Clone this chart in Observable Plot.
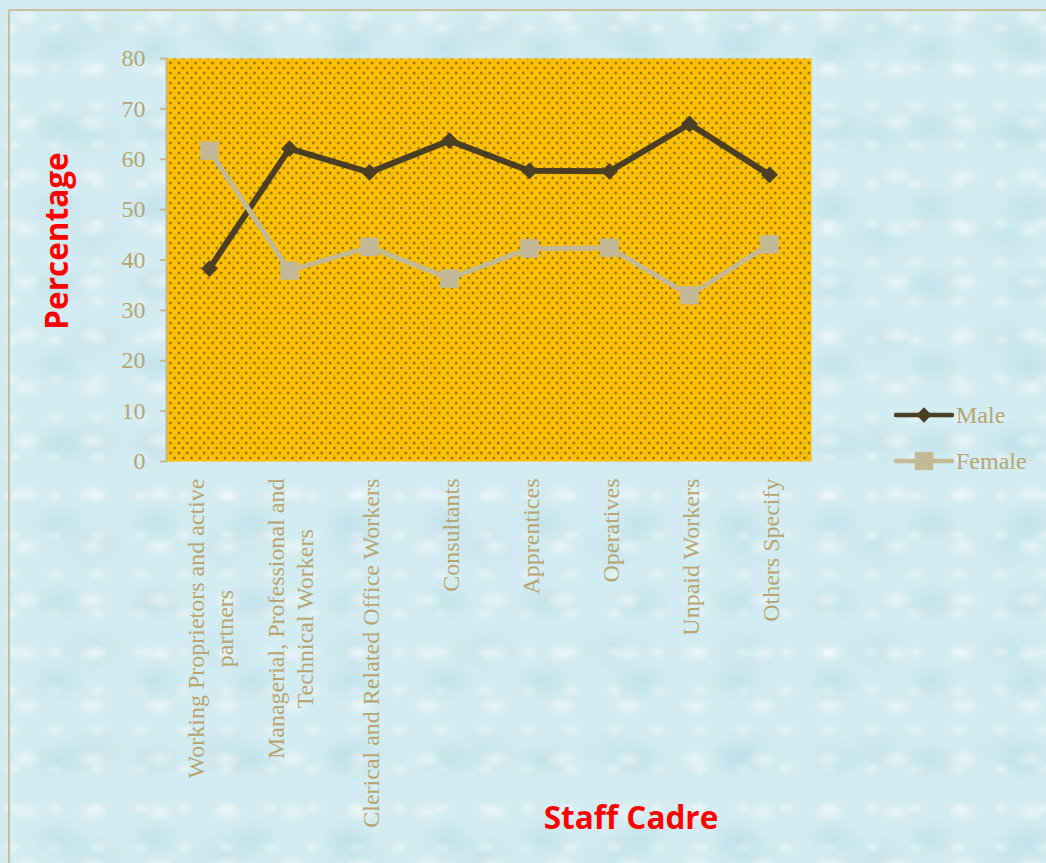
<!DOCTYPE html>
<html>
<head>
<meta charset="utf-8">
<script src="https://cdn.jsdelivr.net/npm/d3@7"></script>
<script src="https://cdn.jsdelivr.net/npm/@observablehq/plot@0.6"></script>
<style>
html, body { margin: 0; padding: 0; }
#wrap {
  position: relative; width: 1046px; height: 863px; overflow: hidden;
  background-color: #d3ecf1;
  background-image:
    radial-gradient(ellipse 16px 10px at 38% 32%, rgba(255,255,255,0.5), rgba(255,255,255,0) 100%),
    radial-gradient(ellipse 30px 22px at 60% 62%, rgba(165,208,220,0.35), rgba(165,208,220,0) 100%),
    radial-gradient(ellipse 10px 7px at 28% 72%, rgba(255,255,255,0.4), rgba(255,255,255,0) 100%),
    radial-gradient(ellipse 40px 26px at 70% 30%, rgba(175,215,226,0.3), rgba(175,215,226,0) 100%);
  background-size: 67px 53px, 97px 79px, 43px 39px, 131px 103px;
}
#border { position: absolute; left: 8px; top: 9px; width: 1100px; height: 900px; border: 2px solid #c8bf9f; }
#chart { position: absolute; left: 0; top: 0; }
.title { position: absolute; color: #ff0000; font-family: "Open Sans", sans-serif; font-weight: 700; font-size: 31.5px; white-space: nowrap; transform: translate(-50%, -50%); }
#ytitle { left: 55px; top: 241px; transform: translate(-50%, -50%) rotate(-90deg); }
#xtitle { left: 631px; top: 816px; }
#legend { position: absolute; left: 894px; top: 400px; font-family: "Liberation Serif", serif; font-size: 24px; color: #b4a46f; }
#legend .row { display: flex; align-items: center; height: 30px; margin-bottom: 16px; }
#legend svg { display: block; margin-right: 2px; }
</style>
</head>
<body>
<div id="wrap">
  <div id="border"></div>
  <div id="chart"></div>
  <div class="title" id="ytitle">Percentage</div>
  <div class="title" id="xtitle">Staff Cadre</div>
  <div id="legend"></div>
</div>
<script>
// ---- data ----
const categories = [
  "Working Proprietors and active\npartners",
  "Managerial, Professional and\nTechnical Workers",
  "Clerical and Related Office Workers",
  "Consultants",
  "Apprentices",
  "Operatives",
  "Unpaid Workers",
  "Others Specify"
];
const seriesNames = ["Male", "Female"];
const maleValues   = [38.3, 62.1, 57.4, 63.7, 57.7, 57.6, 67.0, 56.9];
const femaleValues = [61.7, 37.9, 42.6, 36.3, 42.3, 42.4, 33.0, 43.1];
const yTicks = [0, 10, 20, 30, 40, 50, 60, 70, 80];

// ---- styles ----
const colors = {Male: "#4a3f24", Female: "#c4b996"};
const symbols = {Male: "diamond2", Female: "square"};
const radii = {Male: 7.6, Female: 10.4};
const widths = {Male: 6, Female: 5};
const textColor = "#b4a46f";
const axisColor = "#c4b991";
const serif = "Liberation Serif";
const labelSize = 24;

const W = 1046, H = 863;
const rows = categories.flatMap((c, i) => [
  {cat: c, series: "Male", value: maleValues[i]},
  {cat: c, series: "Female", value: femaleValues[i]}
]);

const ctx = document.createElement("canvas").getContext("2d");
ctx.font = `${labelSize}px "${serif}"`;
const labelMarks = categories.map((c) => {
  const w = d3.max(c.split("\n"), (l) => ctx.measureText(l).width);
  return Plot.text([c], {
    x: (d) => d, frameAnchor: "bottom", rotate: -90,
    textAnchor: "middle", lineAnchor: "middle", lineHeight: 1.2,
    dy: 17 + w / 2, fontSize: labelSize, fontFamily: serif, fill: textColor
  });
});

const seriesMarks = seriesNames.flatMap((s) => {
  const data = rows.filter((d) => d.series === s);
  return [
    Plot.line(data, {x: "cat", y: "value", stroke: colors[s], strokeWidth: widths[s]}),
    Plot.dot(data, {x: "cat", y: "value", symbol: symbols[s], r: radii[s], fill: colors[s], stroke: null})
  ];
});

const svg = Plot.plot({
  width: W, height: H,
  marginLeft: 166, marginRight: W - 811, marginTop: 58, marginBottom: H - 461,
  style: {background: "transparent", overflow: "visible"},
  x: {type: "point", domain: categories, padding: 0.5, axis: null},
  y: {domain: [0, 80], axis: null},
  marks: [
    Plot.frame({fill: "url(#dots)", stroke: null}),
    Plot.axisY({ticks: yTicks, tickSize: 6, tickPadding: 15, label: null, color: textColor, stroke: axisColor, strokeWidth: 2, fontSize: 24, fontFamily: serif, tickFormat: (d) => String(d)}),
    Plot.frame({anchor: "left", stroke: axisColor, strokeWidth: 2}),
    ...seriesMarks,
    ...labelMarks
  ]
});

// dotted fill pattern for plot area
const pw = 8.4, ph = 10;
const defs = d3.select(svg).insert("defs", ":first-child");
const pat = defs.append("pattern").attr("id", "dots").attr("patternUnits", "userSpaceOnUse").attr("width", pw).attr("height", ph);
pat.append("rect").attr("width", pw).attr("height", ph).attr("fill", "#ffc000");
[[2, 2.5], [6.2, 7.5]].forEach(([cx, cy]) => {
  pat.append("circle").attr("cx", cx).attr("cy", cy).attr("r", 1.3).attr("fill", "#8a6e1c");
  pat.append("circle").attr("cx", cx).attr("cy", cy).attr("r", 0.6).attr("fill", "#4a3c14");
});
document.getElementById("chart").appendChild(svg);

// legend
const legend = d3.select("#legend");
seriesNames.forEach((s) => {
  const row = legend.append("div").attr("class", "row");
  const sv = row.append("svg").attr("width", 60).attr("height", 30);
  sv.append("line").attr("x1", 2).attr("x2", 58).attr("y1", 15).attr("y2", 15)
    .attr("stroke", colors[s]).attr("stroke-width", 4.5).attr("stroke-linecap", "round");
  sv.append("path").attr("transform", "translate(30,15)")
    .attr("d", d3.symbol(s === "Male" ? d3.symbolDiamond2 : d3.symbolSquare, s === "Male" ? 150 : 340)())
    .attr("fill", colors[s]);
  row.append("span").text(s);
});
</script>
</body>
</html>
